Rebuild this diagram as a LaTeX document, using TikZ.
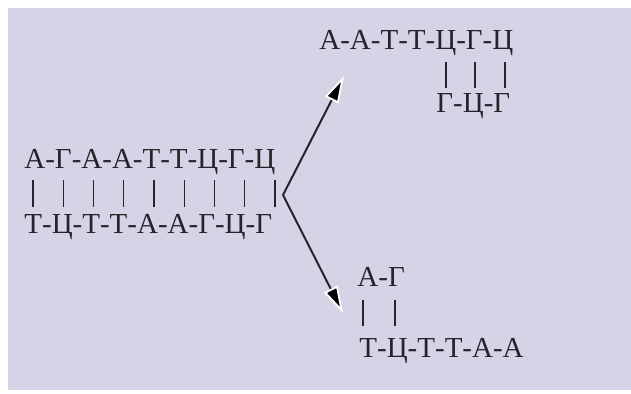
\documentclass[tikz,border=0pt]{standalone}
\usepackage{fontspec}
\setmainfont{Liberation Serif}
\definecolor{PaperLilac}{RGB}{213,211,229}
\definecolor{InkGray}{RGB}{38,36,42}
\usetikzlibrary{arrows.meta}

\begin{document}
\begin{tikzpicture}[x=0.5pt, y=-0.5pt,
    strand/.style={anchor=base west, inner sep=0pt, text=InkGray, font=\fontsize{14.5}{17}\selectfont},
    bond/.style={InkGray, line width=0.55pt},
    split/.style={InkGray, line width=1pt, -{Triangle[length=13.5pt, width=7.5pt, color=white, fill=black, line width=0.9pt]}}]
          \useasboundingbox (0,0) rectangle (631,393);
          \fill[white] (0,0) rectangle (631,393);
          \fill[PaperLilac] (8,8) rectangle (631,390);
          % original duplex
          \node[strand] (dnaT) at (24,168) {А-Г-А-А-Т-Т-Ц-Г-Ц};
          \node[strand] (dnaB) at (24,233) {Т-Ц-Т-Т-А-А-Г-Ц-Г};
          \foreach \i in {0,...,8}
            \draw[bond] (33+30.25*\i,180) -- ++(0,27);
          % upper fragment
          \node[strand] (fragAT) at (319,49) {А-А-Т-Т-Ц-Г-Ц};
          \node[strand] (fragAB) at (436,112) {Г-Ц-Г};
          \foreach \x in {446,475,505}
            \draw[bond] (\x,62) -- ++(0,26);
          % lower fragment
          \node[strand] (fragBT) at (357,286) {А-Г};
          \node[strand] (fragBB) at (359,357) {Т-Ц-Т-Т-А-А};
          \foreach \x in {363,395}
            \draw[bond] (\x,300) -- ++(0,26);
          % cut
          \coordinate (fork) at (283,195);
          \coordinate (tipA) at (344,76);
          \coordinate (tipB) at (343,313);
          \draw[split] (fork) -- (tipA);
          \draw[split] (fork) -- (tipB);
        \end{tikzpicture}
\end{document}
